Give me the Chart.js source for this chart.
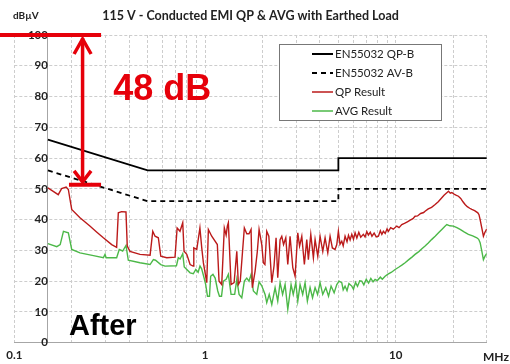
<!DOCTYPE html>
<html>
<head>
<meta charset="utf-8">
<script src="https://cdn.jsdelivr.net/npm/chart.js@4.4.0/dist/chart.umd.min.js"></script>
<style>
  html, body { margin: 0; padding: 0; background: #fff; }
  canvas { display: block; }
</style>
</head>
<body>
<canvas id="canvas" width="510" height="364"></canvas>
<script>
// EN55032 class B limits (MHz / dBuV)
const qpLimitFreq = [0.15, 0.5, 5, 5, 30];
const qpLimitVal = [66, 56, 56, 60, 60];
const avLimitFreq = [0.15, 0.5, 5, 5, 30];
const avLimitVal = [56, 46, 46, 50, 50];

// QP result
const qpFreq = [
  0.150, 0.160, 0.170, 0.177, 0.187, 0.192, 0.196, 0.200, 0.221, 0.249, 0.270, 0.293, 0.324, 0.344,
  0.351, 0.365, 0.385, 0.391, 0.404, 0.456, 0.515, 0.532, 0.547, 0.569, 0.586, 0.630, 0.696,
  0.714, 0.739, 0.764, 0.776, 0.802, 0.835, 0.866, 0.873, 0.905, 0.940, 0.961, 0.980, 1.021, 1.041,
  1.084, 1.160, 1.184, 1.223, 1.262, 1.290, 1.309, 1.325, 1.369, 1.420, 1.467, 1.495, 1.530,
  1.607, 1.655, 1.700, 1.743, 1.770, 1.829, 1.880, 1.920, 1.983, 2.022, 2.060, 2.106, 2.160,
  2.238, 2.300, 2.357, 2.405, 2.474, 2.525, 2.580, 2.650, 2.715, 2.791, 2.884, 2.965, 3.063,
  3.130, 3.215, 3.317, 3.414, 3.481, 3.584, 3.698, 3.775, 3.899, 4.009, 4.142, 4.259, 4.400,
  4.524, 4.650, 4.805, 4.905, 5.000, 5.100, 5.209, 5.300, 5.421, 5.550, 5.650, 5.760, 5.880,
  6.000, 6.118, 6.250, 6.400, 6.550, 6.760, 6.900, 7.050, 7.183, 7.350, 7.500, 7.700, 7.900,
  8.107, 8.300, 8.450, 8.610, 8.800, 9.000, 9.147, 9.400, 9.700, 10.12, 10.40, 10.75, 11.10,
  11.50, 11.90, 12.30, 12.62, 13.00, 13.50, 14.00, 14.24, 14.80, 15.40, 16.08, 16.70, 17.43,
  17.90, 18.51, 18.90, 19.30, 19.67, 20.20, 20.80, 21.30, 21.90, 22.50, 23.08, 23.70, 24.40,
  25.03, 25.90, 26.92, 27.30, 27.68, 28.20, 28.80, 29.30, 30.00
];
const qpVal = [
  50.3, 49.2, 48.1, 50.1, 50.6, 49.8, 46.5, 43.3, 40.6, 37.9, 36.0, 34.1, 31.9, 31.0,
  42.2, 42.6, 42.5, 31.4, 29.7, 28.7, 28.4, 36.2, 34.6, 34.1, 28.1, 27.6, 27.8,
  37.3, 36.2, 39.0, 29.7, 28.7, 25.4, 24.9, 30.8, 30.3, 37.3, 30.8, 26.0, 19.5, 36.8,
  34.6, 31.9, 20.0, 18.9, 37.3, 35.0, 37.9, 39.0, 18.9, 19.5, 29.7, 18.9, 20.0,
  37.3, 35.4, 35.4, 36.8, 17.9, 23.2, 29.7, 36.8, 31.9, 26.0, 25.4, 36.2, 34.6,
  19.5, 25.0, 34.1, 21.1, 33.5, 34.6, 31.9, 34.1, 25.4, 34.6, 24.4, 21.6, 35.7,
  31.4, 34.6, 25.4, 33.5, 27.0, 35.2, 27.6, 33.5, 28.1, 34.6, 29.7, 34.1, 29.2,
  34.6, 30.8, 30.3, 31.9, 36.2, 32.0, 33.0, 31.5, 34.6, 32.8, 34.9, 33.4, 35.2,
  33.6, 35.7, 34.0, 35.9, 34.3, 35.2, 34.4, 36.1, 35.0, 35.9, 34.6, 35.6, 34.4,
  34.6, 36.4, 35.2, 36.2, 35.5, 37.0, 36.2, 37.4, 36.9, 37.9, 37.4, 38.4, 38.8,
  39.3, 39.8, 40.3, 41.1, 41.2, 42.0, 42.3, 42.7, 43.5, 44.0, 44.9, 45.8, 47.1,
  47.9, 48.7, 49.2, 48.6, 48.8, 48.3, 47.9, 47.6, 46.9, 45.8, 44.9, 44.2, 43.7,
  43.3, 42.9, 42.2, 41.6, 40.0, 37.5, 34.6, 35.8, 37.0
];

// AVG result
const avgFreq = [
  0.150, 0.167, 0.174, 0.181, 0.192, 0.200, 0.221, 0.260, 0.293, 0.299, 0.303, 0.344, 0.355,
  0.370, 0.385, 0.396, 0.456, 0.515, 0.536, 0.550, 0.586, 0.617, 0.708, 0.724, 0.740, 0.764,
  0.778, 0.835, 0.868, 0.894, 0.920, 0.941, 0.960, 0.988, 1.008, 1.030, 1.055, 1.070, 1.100,
  1.130, 1.166, 1.190, 1.220, 1.247, 1.290, 1.325, 1.369, 1.430, 1.467, 1.508, 1.558, 1.607,
  1.655, 1.700, 1.743, 1.792, 1.867, 1.920, 1.983, 2.064, 2.106, 2.170, 2.238, 2.329, 2.405,
  2.474, 2.550, 2.628, 2.715, 2.825, 2.900, 2.990, 3.063, 3.149, 3.250, 3.345, 3.439, 3.553,
  3.660, 3.775, 3.890, 4.009, 4.140, 4.295, 4.440, 4.579, 4.750, 4.905, 5.043, 5.209, 5.300,
  5.421, 5.550, 5.680, 5.879, 6.000, 6.150, 6.300, 6.470, 6.632, 6.800, 7.000, 7.200, 7.400,
  7.600, 7.791, 8.000, 8.300, 8.500, 8.789, 9.100, 9.500, 9.915, 10.40, 10.80, 11.19, 11.70,
  12.20, 12.62, 13.20, 13.70, 14.24, 14.80, 15.40, 16.08, 16.80, 17.43, 18.00, 18.51, 19.20,
  20.05, 20.90, 21.74, 22.80, 24.02, 25.30, 26.60, 27.20, 27.68, 28.20, 28.80, 29.40, 30.00
];
const avgVal = [
  32.2, 31.2, 31.9, 36.2, 35.7, 30.3, 29.2, 28.3, 27.6, 28.7, 27.6, 27.6, 30.3,
  29.8, 31.6, 26.8, 26.0, 25.4, 27.0, 26.8, 25.4, 24.9, 25.0, 27.6, 27.2, 28.9,
  24.6, 22.7, 22.4, 23.8, 22.9, 24.9, 24.0, 21.1, 18.9, 15.1, 15.1, 21.6, 22.2,
  21.0, 16.8, 15.1, 15.1, 20.0, 20.6, 22.2, 15.7, 15.7, 20.6, 15.7, 14.6, 20.0,
  21.0, 20.0, 22.2, 16.8, 15.7, 19.8, 18.5, 15.7, 13.0, 15.7, 12.4, 17.9, 13.5,
  19.5, 15.7, 18.9, 10.8, 18.9, 15.7, 19.5, 13.5, 18.9, 15.7, 19.5, 13.5, 17.9,
  14.6, 17.9, 15.7, 19.5, 15.7, 17.9, 15.1, 18.4, 16.2, 18.9, 20.0, 19.5, 17.2,
  18.4, 16.9, 19.2, 18.4, 17.4, 19.6, 18.3, 20.1, 20.0, 18.8, 20.6, 19.4, 20.9,
  19.8, 20.6, 20.2, 21.3, 20.6, 21.6, 22.3, 22.9, 23.8, 24.6, 25.3, 26.0, 27.0,
  27.9, 28.7, 29.6, 30.5, 31.4, 32.4, 33.5, 34.6, 35.8, 36.8, 37.7, 38.4, 38.0,
  37.9, 37.4, 36.8, 36.0, 35.2, 34.7, 34.1, 33.6, 32.5, 30.0, 27.0, 28.2, 29.0
];

// axis ticks
const xTicks = [0.1, 0.2, 0.3, 0.4, 0.5, 0.6, 0.7, 0.8, 0.9, 1, 2, 3, 4, 5, 6, 7, 8, 9, 10, 20, 30];
const xTickLabels = { 0.1: '0.1', 1: '1', 10: '10' };

const pts = (xs, ys) => xs.map((x, i) => ({ x: x, y: ys[i] }));

const gridColor = '#cdcdcd';
const axisColor = '#a6a6a6';
const textColor = '#222222';

function line(ctx, x1, y1, x2, y2) {
  ctx.beginPath();
  ctx.moveTo(x1, y1);
  ctx.lineTo(x2, y2);
  ctx.stroke();
}

// boxed legend in the upper right + annotations
const extras = {
  id: 'extras',
  afterDatasetsDraw(chart) {
    const ctx = chart.ctx;
    ctx.save();
    ctx.fillStyle = '#fff';
    ctx.fillRect(279, 44, 162, 76);
    ctx.strokeStyle = '#777';
    ctx.lineWidth = 1;
    ctx.strokeRect(279.5, 44.5, 162, 76);
    chart.data.datasets.forEach((ds, i) => {
      const ry = 54 + i * 19;
      ctx.strokeStyle = ds.borderColor;
      ctx.lineWidth = i < 2 ? 2 : 1.5;
      ctx.setLineDash(ds.borderDash || []);
      line(ctx, 312, ry, 333, ry);
      ctx.setLineDash([]);
      ctx.fillStyle = textColor;
      ctx.font = '11.5px Lato';
      ctx.textBaseline = 'middle';
      ctx.fillText(ds.label, 335, ry);
    });
    ctx.restore();
  },
  afterDraw(chart) {
    const { ctx, scales: { x, y } } = chart;
    ctx.save();
    ctx.fillStyle = textColor;
    ctx.textBaseline = 'middle';
    ctx.font = 'bold 10px Lato';
    ctx.fillText('dB\u00b5V', 13, 16);
    ctx.font = 'bold 12px Lato';
    ctx.fillText('MHz', 483, 357);

    // 48 dB margin marker
    const red = '#e6000a';
    const yTop = y.getPixelForValue(100);
    const yBot = y.getPixelForValue(51.3);
    const xa = x.getPixelForValue(0.228);
    ctx.strokeStyle = red;
    ctx.lineWidth = 4;
    line(ctx, 0, yTop, x.getPixelForValue(0.285), yTop);
    line(ctx, x.getPixelForValue(0.1935), yBot, x.getPixelForValue(0.285), yBot);
    ctx.lineWidth = 3.5;
    line(ctx, xa, yTop + 3, xa, yBot - 3);
    ctx.beginPath();
    ctx.moveTo(xa - 8.5, yTop + 19);
    ctx.lineTo(xa, yTop + 4);
    ctx.lineTo(xa + 8.5, yTop + 19);
    ctx.stroke();
    ctx.beginPath();
    ctx.moveTo(xa - 8.5, yBot - 14);
    ctx.lineTo(xa, yBot - 3);
    ctx.lineTo(xa + 8.5, yBot - 14);
    ctx.stroke();

    ctx.textBaseline = 'alphabetic';
    ctx.fillStyle = red;
    ctx.font = 'bold 36px "Liberation Sans"';
    ctx.fillText('48 dB', x.getPixelForValue(0.33), y.getPixelForValue(79));
    ctx.fillStyle = '#000';
    ctx.font = 'bold 29px "Liberation Sans"';
    ctx.fillText('After', x.getPixelForValue(0.1935), y.getPixelForValue(2.4));
    ctx.restore();
  }
};

var ctx = document.getElementById('canvas').getContext('2d');
var emiChart = new Chart(ctx, {
  type: 'line',
  data: {
    datasets: [{
      label: 'EN55032 QP-B',
      data: pts(qpLimitFreq, qpLimitVal),
      borderColor: '#000000',
      borderWidth: 1.8
    }, {
      label: 'EN55032 AV-B',
      data: pts(avLimitFreq, avLimitVal),
      borderColor: '#000000',
      borderWidth: 1.8,
      borderDash: [5, 4]
    }, {
      label: 'QP Result',
      data: pts(qpFreq, qpVal),
      borderColor: '#bb1a1a',
      borderWidth: 1.4
    }, {
      label: 'AVG Result',
      data: pts(avgFreq, avgVal),
      borderColor: '#4cb848',
      borderWidth: 1.4
    }]
  },
  options: {
    responsive: false,
    animation: false,
    devicePixelRatio: 1,
    elements: { point: { radius: 0 }, line: { tension: 0 } },
    layout: { padding: { left: 14.3, right: 23.2, top: 0, bottom: 0.5 } },
    plugins: {
      legend: { display: false },
      tooltip: { enabled: false },
      title: {
        display: true,
        text: '115 V - Conducted EMI QP & AVG with Earthed Load',
        color: textColor,
        font: { family: 'Lato', size: 12.5, weight: 'bold' },
        padding: { top: 8, bottom: 12 }
      }
    },
    scales: {
      x: {
        type: 'logarithmic',
        min: 0.1,
        max: 30,
        afterBuildTicks: (scale) => { scale.ticks = xTicks.map(v => ({ value: v })); },
        ticks: {
          autoSkip: false,
          maxRotation: 0,
          padding: 1,
          color: textColor,
          font: { family: 'Lato', size: 11.5, weight: 'bold' },
          callback: (v) => xTickLabels[v] || ''
        },
        grid: { color: gridColor, tickLength: 5, tickColor: 'rgba(0,0,0,0)' },
        border: { color: axisColor, dash: [3, 2] }
      },
      y: {
        position: { x: 0.15 },
        min: 0,
        max: 100,
        ticks: {
          stepSize: 10,
          padding: 10,
          color: textColor,
          font: { family: 'Lato', size: 11.5, weight: 'bold' }
        },
        grid: { color: gridColor, drawTicks: false },
        border: { color: axisColor, dash: [3, 2] }
      }
    }
  },
  plugins: [extras]
});
</script>
</body>
</html>
